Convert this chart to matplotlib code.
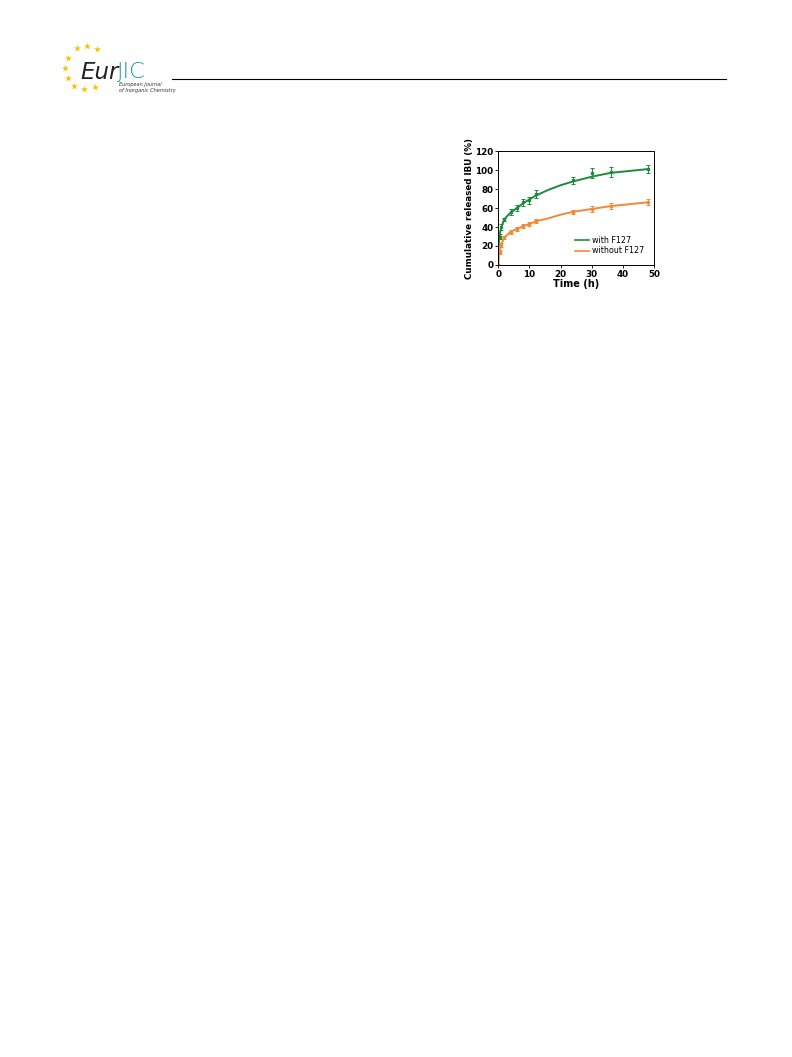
import matplotlib
matplotlib.use("Agg")
import matplotlib.pyplot as plt
from matplotlib.lines import Line2D

# release data (time in h, cumulative IBU released in %)
time_h = [0, 0.5, 1, 2, 4, 6, 8, 10, 12, 24, 30, 36, 48]
with_f127 = [0, 30, 40, 48, 56, 60, 66, 68, 75, 89, 97, 98, 101]
with_f127_err = [0, 3, 3, 2, 3, 3, 4, 4, 4, 4, 5, 5, 4]
without_f127 = [0, 14, 21, 29, 35, 38, 41, 43, 46, 56, 59, 62, 66]
without_f127_err = [0, 2, 2, 2, 2, 2, 2, 2, 2, 2, 3, 3, 3]

# fitted curves
fit_t = [0, 0.2, 0.5, 1, 2, 3, 4, 6, 8, 10, 12, 16, 20, 24, 30, 36, 42, 48]
fit_with = [0, 22, 32, 40, 48, 52, 55, 60, 65, 69, 73, 79, 84, 88, 93, 97, 99, 101]
fit_without = [0, 10, 16, 22, 29, 32, 35, 38, 41, 43, 46, 49, 53, 56, 59, 62, 64, 66]

green = "#1b8b3e"
orange = "#f28a33"

fig = plt.figure(figsize=(7.92, 10.57), dpi=100)

# page header (logo + rule)
page = fig.add_axes([0, 0, 1, 1])
page.set_xlim(0, 792)
page.set_ylim(1057, 0)
page.axis("off")
star_x = [77, 87, 97, 68, 65, 68, 74, 84, 95]
star_y = [48, 46, 49, 58, 68, 78, 86, 89, 87]
page.scatter(star_x, star_y, marker="*", s=28, color="#f6c200", linewidths=0)
page.text(80, 79, "Eur", fontsize=16.5, style="italic", color="#222222",
          family="DejaVu Sans", va="baseline")
page.text(117, 78, "JIC", fontsize=16, color="#1b9a9c", family="DejaVu Sans",
          fontweight="light", va="baseline")
page.text(119, 86, "European Journal", fontsize=3.6, style="italic", color="#333333")
page.text(119, 92, "of Inorganic Chemistry", fontsize=3.6, style="italic", color="#333333")
page.add_line(Line2D([172, 726], [79, 79], color="black", lw=0.8))

# chart
ax = fig.add_axes([0.629, 0.7493, 0.197, 0.1078])
ax.plot(fit_t, fit_with, color=green, lw=1.4)
ax.plot(fit_t, fit_without, color=orange, lw=1.4)
ax.errorbar(time_h, with_f127, yerr=with_f127_err, fmt="s", ms=1.5, color=green,
            ecolor=green, elinewidth=0.7, capsize=1.5, capthick=0.7)
ax.errorbar(time_h, without_f127, yerr=without_f127_err, fmt="s", ms=1.5, color=orange,
            ecolor=orange, elinewidth=0.7, capsize=1.5, capthick=0.7)

ax.set_xlim(0, 50)
ax.set_ylim(0, 120)
ax.set_xticks(range(0, 51, 10))
ax.set_yticks(range(0, 121, 20))
ax.tick_params(labelsize=6.3, width=0.6, length=2, pad=1.5)
for lbl in ax.get_xticklabels() + ax.get_yticklabels():
    lbl.set_fontweight("bold")
for sp in ax.spines.values():
    sp.set_linewidth(0.7)
ax.set_xlabel("Time (h)", fontsize=7, fontweight="bold", labelpad=0)
ax.set_ylabel("Cumulative released IBU (%)", fontsize=6.3, fontweight="bold", labelpad=1)

handles = [Line2D([], [], color=green, lw=1.2), Line2D([], [], color=orange, lw=1.2)]
ax.legend(handles, ["with F127", "without F127"], loc="lower right", frameon=False,
          fontsize=5.8, handlelength=1.8, handletextpad=0.4, labelspacing=0.2,
          borderaxespad=0.8)

fig.savefig("out.png", dpi=100)
